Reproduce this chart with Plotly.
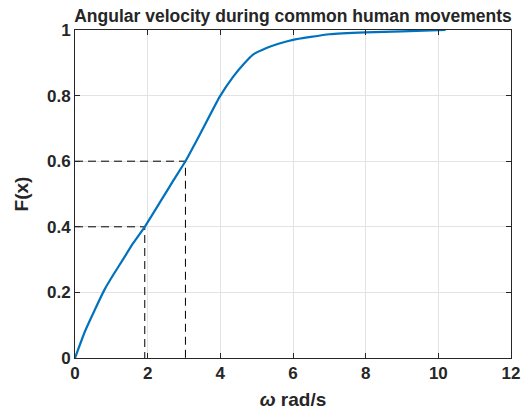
import plotly.graph_objects as go

omega = [0, 0.27, 0.55, 0.82, 1.05, 1.33, 1.6, 1.92, 2.34, 2.7, 3.04, 3.43, 3.98, 4.35, 4.65, 4.9, 5.27, 5.6, 6.0, 7.0, 8.0, 9.0, 10.2]
cdf = [0, 0.08, 0.148, 0.21, 0.253, 0.302, 0.35, 0.4, 0.475, 0.54, 0.6, 0.68, 0.796, 0.857, 0.897, 0.925, 0.945, 0.958, 0.97, 0.987, 0.993, 0.996, 1.0]

q_x = [1.92, 3.04]
q_y = [0.4, 0.6]

x_ticks = [0, 2, 4, 6, 8, 10, 12]
y_ticks = [0, 0.2, 0.4, 0.6, 0.8, 1]
y_tick_labels = ["0", "0.2", "0.4", "0.6", "0.8", "1"]

fig = go.Figure()
for qx, qy in zip(q_x, q_y):
    fig.add_trace(go.Scatter(x=[0, qx, qx], y=[qy, qy, 0], mode="lines",
                             line=dict(color="black", width=1, dash="8px,5px"),
                             showlegend=False, hoverinfo="skip"))
fig.add_trace(go.Scatter(x=omega, y=cdf, mode="lines",
                         line=dict(color="#0072BD", width=2.2, shape="spline", smoothing=0.4),
                         showlegend=False))

font_b = dict(family="Liberation Sans, Arial, sans-serif", color="#262626")
axis_common = dict(showline=True, linecolor="#262626", linewidth=1, mirror="ticks", ticks="inside",
                   ticklen=5, tickcolor="#262626", showgrid=True, gridcolor="#e3e3e3", gridwidth=1,
                   zeroline=False, automargin=False, tickfont=dict(size=17, **font_b))
fig.update_layout(
    template="none",
    width=523, height=415,
    margin=dict(l=75, r=12, t=30, b=57, pad=0),
    paper_bgcolor="white", plot_bgcolor="white",
    title=dict(text="<b>Angular velocity during common human movements</b>", x=0.5, xref="paper",
               xanchor="center", y=1 - 16 / 415, yanchor="middle", font=dict(size=17.5, **font_b)),
    xaxis=dict(range=[0, 12], tickvals=x_ticks, ticktext=[f"<b>{t}</b>" for t in x_ticks],
               title=dict(text="<b><i>ω</i> rad/s</b>", font=dict(size=19, **font_b), standoff=10), **axis_common),
    yaxis=dict(range=[0, 1], tickvals=y_ticks, ticktext=[f"<b>{t}</b>" for t in y_tick_labels],
               title=dict(text="<b>F(x)</b>", font=dict(size=19, **font_b), standoff=13), **axis_common),
)
fig.write_html("out.html", config={"displayModeBar": False},
               post_script="document.body.style.margin='0';")
